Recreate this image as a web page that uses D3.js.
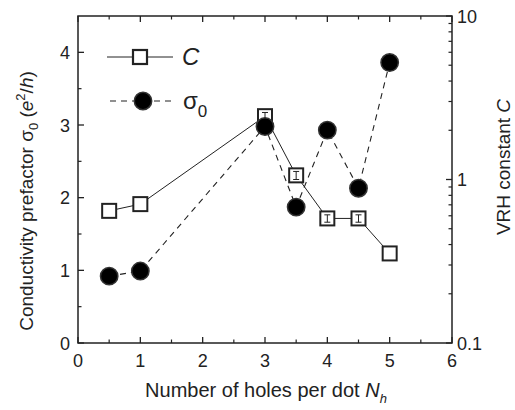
<!DOCTYPE html>
<html><head><meta charset="utf-8">
<script src="https://cdn.jsdelivr.net/npm/d3@7"></script>
<style>body{margin:0;background:#fff;} text{font-family:"Liberation Sans",Arial,sans-serif;fill:#222;}</style>
</head><body><svg id="c" width="515" height="410"></svg>
<script>
const nh = [0.5, 1, 3, 3.5, 4, 4.5, 5];
const sigma0 = [0.92, 0.99, 2.98, 1.87, 2.93, 2.13, 3.86];
const vrhC = [0.643, 0.707, 2.44, 1.06, 0.578, 0.578, 0.353];
const vrhCerr = [0, 0, 0.13, 0.06, 0.03, 0.03, 0];
const xTicks = [0, 1, 2, 3, 4, 5, 6];
const yTicks = [0, 1, 2, 3, 4];
const rTicks = [0.1, 1, 10];
const rTickLabels = ["0.1", "1", "10"];

const svg = d3.select("#c");
const L = 78, R = 452, T = 16, B = 343;
const x = d3.scaleLinear().domain([0, 6]).range([L, R]);
const y = d3.scaleLinear().domain([0, 4.5]).range([B, T]);
const yr = d3.scaleLog().domain([0.1, 10]).range([B, T]);
const ink = "#222";

svg.append("rect").attr("x", L).attr("y", T).attr("width", R - L).attr("height", B - T)
  .attr("fill", "none").attr("stroke", ink).attr("stroke-width", 1.5);

const g = svg.append("g");
const xMinor = d3.range(0.5, 6, 1);
xTicks.forEach(v => {
  g.append("line").attr("x1", x(v)).attr("x2", x(v)).attr("y1", B).attr("y2", B - 6).attr("stroke", ink).attr("stroke-width", 1.3);
  g.append("line").attr("x1", x(v)).attr("x2", x(v)).attr("y1", T).attr("y2", T + 6).attr("stroke", ink).attr("stroke-width", 1.3);
  g.append("text").attr("x", x(v)).attr("y", B + 24).attr("text-anchor", "middle").attr("font-size", 18).text(v);
});
xMinor.forEach(v => {
  g.append("line").attr("x1", x(v)).attr("x2", x(v)).attr("y1", B).attr("y2", B - 3.5).attr("stroke", ink).attr("stroke-width", 1.2);
  g.append("line").attr("x1", x(v)).attr("x2", x(v)).attr("y1", T).attr("y2", T + 3.5).attr("stroke", ink).attr("stroke-width", 1.2);
});
yTicks.forEach(v => {
  g.append("line").attr("x1", L).attr("x2", L + 6).attr("y1", y(v)).attr("y2", y(v)).attr("stroke", ink).attr("stroke-width", 1.3);
  g.append("text").attr("x", L - 8).attr("y", y(v) + 6.5).attr("text-anchor", "end").attr("font-size", 18).text(v);
});
d3.range(0.5, 4.5, 1).forEach(v => {
  g.append("line").attr("x1", L).attr("x2", L + 3.5).attr("y1", y(v)).attr("y2", y(v)).attr("stroke", ink).attr("stroke-width", 1.2);
});
rTicks.forEach((v, i) => {
  g.append("line").attr("x1", R).attr("x2", R - 6).attr("y1", yr(v)).attr("y2", yr(v)).attr("stroke", ink).attr("stroke-width", 1.3);
  g.append("text").attr("x", R + 5).attr("y", yr(v) + 6.5).attr("font-size", 18).text(rTickLabels[i]);
});
[0.1, 1].forEach(d => d3.range(2, 10).forEach(m => {
  const v = d * m;
  g.append("line").attr("x1", R).attr("x2", R - 3.5).attr("y1", yr(v)).attr("y2", yr(v)).attr("stroke", ink).attr("stroke-width", 1.2);
}));

// axis titles
svg.append("text").attr("transform", `translate(33,201) rotate(-90)`).attr("text-anchor", "middle").attr("font-size", 19)
  .html('Conductivity prefactor σ<tspan dy="5" font-size="13">0</tspan><tspan dy="-5"> (</tspan><tspan font-style="italic">e</tspan><tspan dy="-8" font-size="13">2</tspan><tspan dy="8">/</tspan><tspan font-style="italic">h</tspan>)');
svg.append("text").attr("transform", `translate(510,167) rotate(-90)`).attr("text-anchor", "middle").attr("font-size", 19)
  .html('VRH constant <tspan font-style="italic">C</tspan>');
svg.append("text").attr("x", 266).attr("y", 397).attr("text-anchor", "middle").attr("font-size", 20)
  .html('Number of holes per dot <tspan font-style="italic">N</tspan><tspan dy="6" font-size="13" font-style="italic">h</tspan>');

const lineC = d3.line().x((d, i) => x(nh[i])).y(d => yr(d));
const lineS = d3.line().x((d, i) => x(nh[i])).y(d => y(d));
svg.append("path").attr("d", lineC(vrhC)).attr("fill", "none").attr("stroke", ink).attr("stroke-width", 1);
svg.append("path").attr("d", lineS(sigma0)).attr("fill", "none").attr("stroke", ink).attr("stroke-width", 1.1).attr("stroke-dasharray", "6,5");

const sq = 14;
vrhC.forEach((v, i) => {
  svg.append("rect").attr("x", x(nh[i]) - sq / 2).attr("y", yr(v) - sq / 2).attr("width", sq).attr("height", sq)
    .attr("fill", "#fff").attr("stroke", ink).attr("stroke-width", 2);
  if (vrhCerr[i] > 0) {
    const y1 = yr(v + vrhCerr[i]), y2 = yr(v - vrhCerr[i]), cx = x(nh[i]);
    svg.append("line").attr("x1", cx).attr("x2", cx).attr("y1", y1).attr("y2", y2).attr("stroke", ink).attr("stroke-width", 1);
    [y1, y2].forEach(yy => svg.append("line").attr("x1", cx - 3).attr("x2", cx + 3).attr("y1", yy).attr("y2", yy).attr("stroke", ink).attr("stroke-width", 1));
  }
});
sigma0.forEach((v, i) => {
  svg.append("circle").attr("cx", x(nh[i])).attr("cy", y(v)).attr("r", 8.7)
    .attr("fill", "#000").attr("stroke", "#333").attr("stroke-width", 1.5);
});

// legend
svg.append("line").attr("x1", 107).attr("x2", 173).attr("y1", 57).attr("y2", 57).attr("stroke", ink).attr("stroke-width", 1);
svg.append("rect").attr("x", 140 - sq / 2).attr("y", 57 - sq / 2).attr("width", sq).attr("height", sq).attr("fill", "#fff").attr("stroke", ink).attr("stroke-width", 2.2);
svg.append("text").attr("x", 182).attr("y", 65).attr("font-size", 24).attr("font-style", "italic").text("C");
svg.append("line").attr("x1", 110).attr("x2", 176).attr("y1", 101).attr("y2", 101).attr("stroke", ink).attr("stroke-width", 1.1).attr("stroke-dasharray", "6,5");
svg.append("circle").attr("cx", 143).attr("cy", 101).attr("r", 8.7).attr("fill", "#000").attr("stroke", "#333").attr("stroke-width", 1.5);
svg.append("text").attr("x", 183).attr("y", 109).attr("font-size", 24).html('σ<tspan dy="8" font-size="17">0</tspan>');
</script></body></html>
